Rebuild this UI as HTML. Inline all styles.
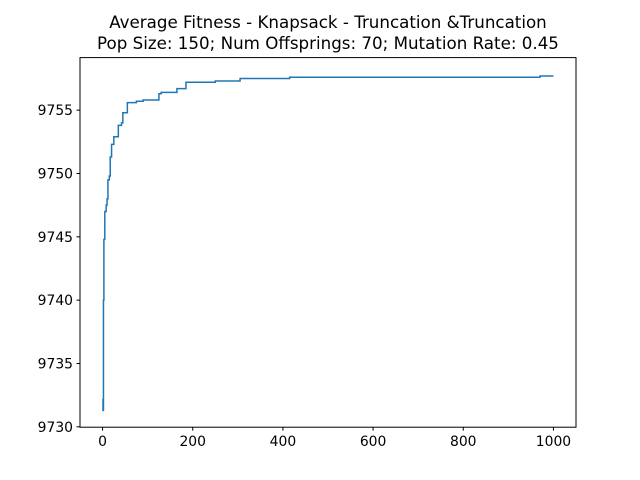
<!DOCTYPE html>
<html><head><meta charset="utf-8"><style>
body{margin:0;background:#fff;}
svg{display:block;font-family:"DejaVu Sans","Liberation Sans",sans-serif;}
</style></head><body>
<svg id="chart" width="640" height="480">
<rect width="640" height="480" fill="#fff"/>
<text x="328" y="28" text-anchor="middle" font-size="16.7">Average Fitness - Knapsack - Truncation &amp;Truncation</text>
<text x="328" y="49" text-anchor="middle" font-size="16.7">Pop Size: 150; Num Offsprings: 70; Mutation Rate: 0.45</text>
<g id="axes"></g>
<rect x="80" y="57.6" width="496" height="369.6" fill="none" stroke="#000" stroke-width="1"/>
</svg>
<script>
const generations=[0,1,2,3,5,8,10,12,15,17,20,25,35,42,45,55,75,90,125,130,165,185,250,305,415,970,1000];
const fitness=[9732.2,9731.3,9740,9744.8,9747,9747.5,9748,9749.5,9749.8,9751.3,9752.3,9752.9,9753.8,9754,9754.8,9755.6,9755.7,9755.8,9756.3,9756.4,9756.7,9757.2,9757.3,9757.5,9757.6,9757.7,9757.7];
const xTicks=[0,200,400,600,800,1000];
const yTicks=[9730,9735,9740,9745,9750,9755];
const L=80,R=576,T=57.6,B=427.2;
const xMin=-50,xMax=1050,yMin=9729.97,yMax=9759.15;
const sx=v=>L+(v-xMin)/(xMax-xMin)*(R-L);
const sy=v=>B-(v-yMin)/(yMax-yMin)*(B-T);
const NS="http://www.w3.org/2000/svg";
const g=document.getElementById('axes');
function mk(t,a){const e=document.createElementNS(NS,t);for(const k in a)e.setAttribute(k,a[k]);g.appendChild(e);return e;}
xTicks.forEach(v=>{
  const tk=mk('line',{x1:sx(v),x2:sx(v),y1:B,y2:B+3.5,stroke:'#000'});
  
  
  const t=mk('text',{x:sx(v),y:B+19,'text-anchor':'middle','font-size':'13.9'});
  t.textContent=v;
  
  
});
yTicks.forEach(v=>{
  const tk=mk('line',{x1:L-3.5,x2:L,y1:sy(v),y2:sy(v),stroke:'#000'});
  
  
  const t=mk('text',{x:L-7,y:sy(v)+5,'text-anchor':'end','font-size':'13.9'});
  t.textContent=v;
  
  
});
let d='';
generations.forEach((gx,i)=>{
  if(i===0)d+='M'+sx(gx)+','+sy(fitness[i]);
  else d+=' L'+sx(gx)+','+sy(fitness[i-1])+' L'+sx(gx)+','+sy(fitness[i]);
});
const p=mk('path',{d:d,fill:'none',stroke:'#1f77b4','stroke-width':'1.5'});


</script>
</body></html>
